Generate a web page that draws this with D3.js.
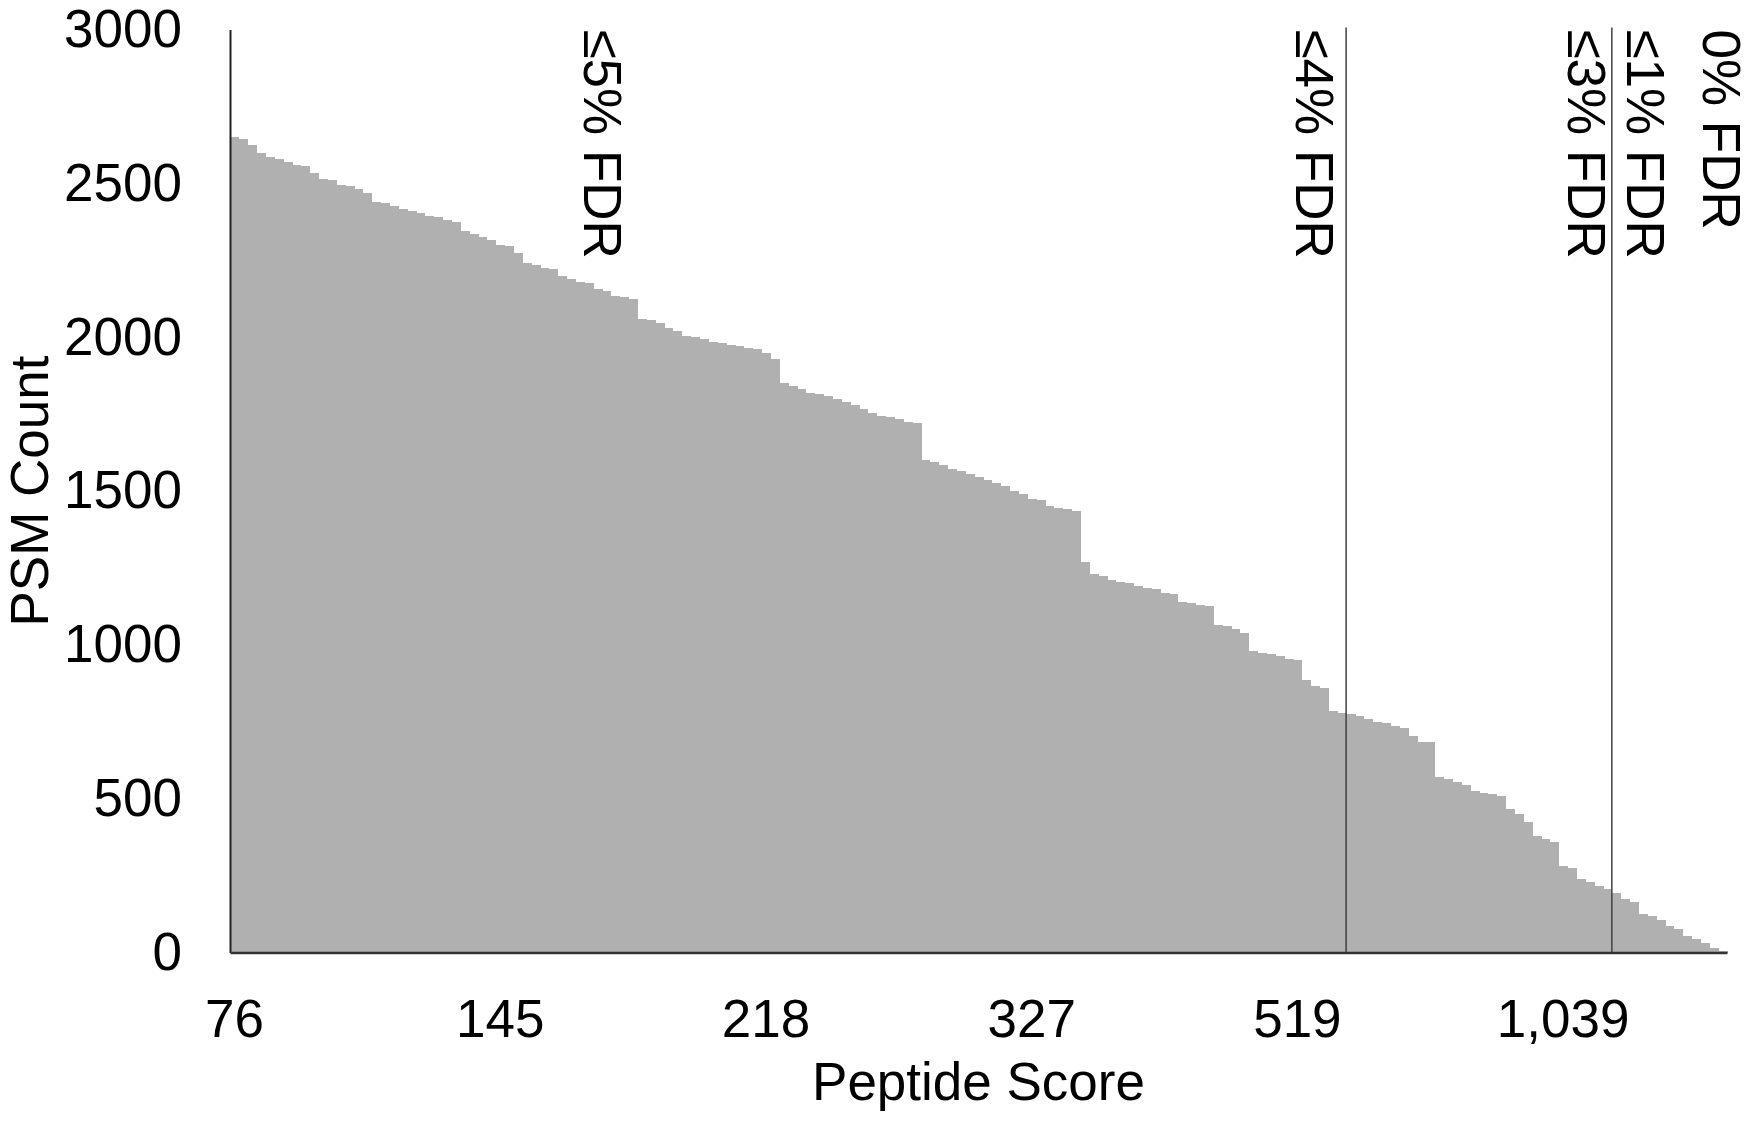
<!DOCTYPE html>
<html>
<head>
<meta charset="utf-8">
<script src="https://cdn.jsdelivr.net/npm/d3@7"></script>
<style>
  body { margin: 0; background: #fff; }
  svg { display: block; font-family: "Liberation Sans", Arial, sans-serif; }
</style>
</head>
<body>
<script>
// PSM count per peptide-score bin (highest count at the lowest score)
const psmCounts = [
  2650, 2645, 2625, 2600, 2585, 2580, 2570, 2560, 2555, 2535,
  2515, 2510, 2495, 2490, 2480, 2470, 2440, 2435, 2425, 2415,
  2410, 2405, 2395, 2390, 2380, 2375, 2345, 2335, 2325, 2315,
  2300, 2295, 2275, 2240, 2235, 2225, 2220, 2200, 2190, 2180,
  2175, 2155, 2150, 2135, 2130, 2125, 2060, 2055, 2045, 2030,
  2020, 2005, 2000, 1995, 1985, 1980, 1975, 1970, 1965, 1960,
  1950, 1930, 1850, 1840, 1830, 1820, 1815, 1810, 1800, 1790,
  1780, 1765, 1755, 1745, 1740, 1735, 1725, 1720, 1600, 1595,
  1585, 1570, 1565, 1555, 1545, 1535, 1525, 1515, 1500, 1490,
  1475, 1470, 1450, 1445, 1440, 1435, 1270, 1230, 1225, 1210,
  1205, 1200, 1190, 1185, 1180, 1170, 1165, 1140, 1135, 1130,
  1125, 1065, 1060, 1050, 1040, 980, 975, 970, 965, 955,
  950, 885, 865, 860, 785, 780, 775, 770, 760, 750,
  745, 735, 730, 705, 685, 685, 570, 565, 555, 545,
  525, 520, 515, 510, 465, 450, 425, 380, 370, 360,
  280, 275, 240, 230, 215, 205, 195, 175, 165, 125,
  120, 105, 85, 75, 55, 45, 30, 15, 5
];

// x tick labels (peptide score) and the bin they sit under
const tickIndex = [0, 30, 60, 90, 120, 150];
const tickLabels = ["76", "145", "218", "327", "519", "1,039"];

const yTicks = [0, 500, 1000, 1500, 2000, 2500, 3000];

// FDR cut-off lines (bin boundary) and the labels, placed in bin units
const fdrLines = [126, 156];
const fdrLabels = ["≤5% FDR", "≤4% FDR", "≤3% FDR", "≤1% FDR", "0% FDR"];
const fdrLabelBins = [42.1, 122.4, 153.1, 159.8, 168.4];

const WIDTH = 1751;
const HEIGHT = 1122;
const PLOT_LEFT = 230;
const PLOT_RIGHT = 1727;
const PLOT_TOP = 29.5;
const PLOT_BOTTOM = 952.5;
const FONT_SIZE = 53;
const BAR_COLOR = "#b0b0b0";

const svg = d3.select("body").append("svg")
  .attr("width", WIDTH)
  .attr("height", HEIGHT);

svg.append("rect")
  .attr("width", WIDTH)
  .attr("height", HEIGHT)
  .attr("fill", "#fff");

const x = d3.scaleBand()
  .domain(d3.range(psmCounts.length))
  .range([PLOT_LEFT, PLOT_RIGHT])
  .padding(0);

// continuous version of the bin axis, for lines and labels
const xBin = d3.scaleLinear()
  .domain([0, psmCounts.length])
  .range([PLOT_LEFT, PLOT_RIGHT]);

const y = d3.scaleLinear()
  .domain([0, 3000])
  .range([PLOT_BOTTOM, PLOT_TOP]);

svg.append("g")
  .attr("class", "bars")
  .selectAll("rect")
  .data(psmCounts)
  .enter().append("rect")
  .attr("x", (_, i) => x(i))
  .attr("y", d => y(d))
  .attr("width", x.bandwidth() + 0.6)
  .attr("height", d => y(0) - y(d))
  .attr("fill", BAR_COLOR)
  .attr("shape-rendering", "crispEdges");

svg.append("g")
  .attr("class", "fdr-lines")
  .selectAll("line")
  .data(fdrLines)
  .enter().append("line")
  .attr("x1", d => xBin(d))
  .attr("x2", d => xBin(d))
  .attr("y1", PLOT_TOP - 2)
  .attr("y2", PLOT_BOTTOM)
  .attr("stroke", "#404040")
  .attr("stroke-width", 1.5);

// y axis
const yAxis = svg.append("g")
  .attr("transform", `translate(${PLOT_LEFT},0)`)
  .call(d3.axisLeft(y)
    .tickValues(yTicks)
    .tickFormat(d3.format("d"))
    .tickSize(0)
    .tickSizeOuter(0)
    .tickPadding(48));
yAxis.select(".domain").attr("stroke", "#222").attr("stroke-width", 2);
yAxis.selectAll("text")
  .attr("font-size", FONT_SIZE)
  .attr("font-family", "Liberation Sans, Arial, sans-serif")
  .attr("fill", "#000");

// x axis
const xAxis = svg.append("g")
  .attr("transform", `translate(0,${PLOT_BOTTOM})`)
  .call(d3.axisBottom(x)
    .tickValues(tickIndex)
    .tickFormat((_, i) => tickLabels[i])
    .tickSize(0)
    .tickSizeOuter(0)
    .tickPadding(47));
xAxis.select(".domain").attr("stroke", "#333").attr("stroke-width", 2.5);
xAxis.selectAll("text")
  .attr("font-size", FONT_SIZE)
  .attr("font-family", "Liberation Sans, Arial, sans-serif")
  .attr("fill", "#000");

// FDR labels, reading top to bottom
svg.append("g")
  .attr("class", "fdr-labels")
  .selectAll("text")
  .data(fdrLabels)
  .enter().append("text")
  .attr("transform", (_, i) => `translate(${xBin(fdrLabelBins[i])},${PLOT_TOP})rotate(90)`)
  .attr("dy", "0.35em")
  .attr("font-size", FONT_SIZE)
  .attr("fill", "#000")
  .text(d => d);

// axis titles
svg.append("text")
  .attr("x", (PLOT_LEFT + PLOT_RIGHT) / 2)
  .attr("y", 1100)
  .attr("text-anchor", "middle")
  .attr("font-size", FONT_SIZE)
  .attr("fill", "#000")
  .text("Peptide Score");

svg.append("text")
  .attr("transform", `translate(48,${(PLOT_TOP + PLOT_BOTTOM) / 2})rotate(-90)`)
  .attr("text-anchor", "middle")
  .attr("font-size", FONT_SIZE)
  .attr("fill", "#000")
  .text("PSM Count");
</script>
</body>
</html>
